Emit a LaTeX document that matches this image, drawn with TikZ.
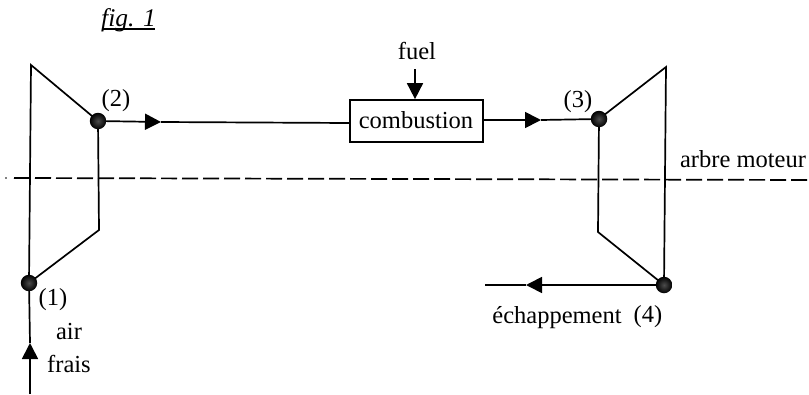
\documentclass[tikz,border=0pt]{standalone}
\usepackage{fontspec}
\setmainfont{Liberation Serif}
\usetikzlibrary{arrows.meta}
\tikzset{
  x=1pt,y=-1pt,
  line/.style={line width=1.7pt,black,line join=miter},
  flow/.style={line,-{Triangle[length=16pt,width=16pt,black]}},
  junction/.style={circle,minimum size=16.5pt,inner sep=0pt,inner color=black!70,outer color=black},
  lbl/.style={inner sep=0pt,font=\fontsize{24.5}{26}\selectfont,black},
  shaft/.style={line width=1.7pt,black,dash pattern=on 16pt off 5pt},
}
\begin{document}
\begin{tikzpicture}
\useasboundingbox (0,0) rectangle (809,394);
% named points
\coordinate (cTop) at (31,65);
\coordinate (cLow) at (99,230);
\coordinate (tTop) at (666,67);
\coordinate (tLow) at (598,232);
\coordinate (inEnd) at (30,394);
\coordinate (inTip) at (30,343);
\coordinate (a2Tip) at (161,122);
\coordinate (a3Tip) at (541,120);
\coordinate (a4Tip) at (526,285);
\coordinate (outEnd) at (485,285);
\coordinate (fuelTop) at (415,69);
\coordinate (shaftL) at (6,178);
\coordinate (shaftL2) at (14,178);
\coordinate (shaftR) at (809,180);
% shaft
\fill[black] (shaftL) circle (0.9pt);
\draw[shaft] (shaftL2) -- (shaftR);
% box
\node[draw,line,fill=white,minimum width=133pt,minimum height=42pt,inner sep=0pt] (box) at (416.5,121) {};
\node[lbl,anchor=base] (boxlabel) at (416,128) {combustion};
% junctions positions
\coordinate (p1) at (29,283);
\coordinate (p2) at (98,121);
\coordinate (p3) at (599,119);
\coordinate (p4) at (664,285);
% machines
\draw[line] (p1) -- (cTop) -- (p2) -- (cLow) -- (p1);
\draw[line] (p3) -- (tTop) -- (p4) -- (tLow) -- (p3);
% flows
\draw[flow] (inEnd) -- (inTip);
\draw[line] (inTip) -- (p1);
\draw[flow] (p2) -- (a2Tip);
\draw[line] (a2Tip) -- (box.west |- 0,123);
\draw[flow] (box.east |- 0,120) -- (a3Tip);
\draw[line] (a3Tip) -- (p3);
\draw[flow] (p4) -- (a4Tip);
\draw[line] (a4Tip) -- (outEnd);
\draw[flow] (fuelTop) -- (box.north -| fuelTop);
% dots
\node[junction] (n1) at (p1) {};
\node[junction] (n2) at (p2) {};
\node[junction] (n3) at (p3) {};
\node[junction] (n4) at (p4) {};
% labels
\node[lbl,anchor=base] (figl) at (128.5,26) {\fontsize{25.5}{26}\selectfont\itshape fig. 1};
\coordinate (ulL) at (102,29);
\coordinate (ulR) at (155,29);
\draw[line width=1.1pt,black] (ulL) -- (ulR);
\node[lbl,anchor=base] (l2) at (116,106) {(2)};
\node[lbl,anchor=base] (l1) at (53,305) {(1)};
\node[lbl,anchor=base] (air) at (69,339) {air};
\node[lbl,anchor=base] (frais) at (69,372) {frais};
\node[lbl,anchor=base] (fuel) at (417,59) {fuel};
\node[lbl,anchor=base] (l3) at (578,107) {(3)};
\node[lbl,anchor=base] (arbre) at (743,167) {arbre moteur};
\node[lbl,anchor=base] (ech) at (557,323) {échappement};
\node[lbl,anchor=base] (l4) at (648,322) {(4)};
\end{tikzpicture}
\end{document}
